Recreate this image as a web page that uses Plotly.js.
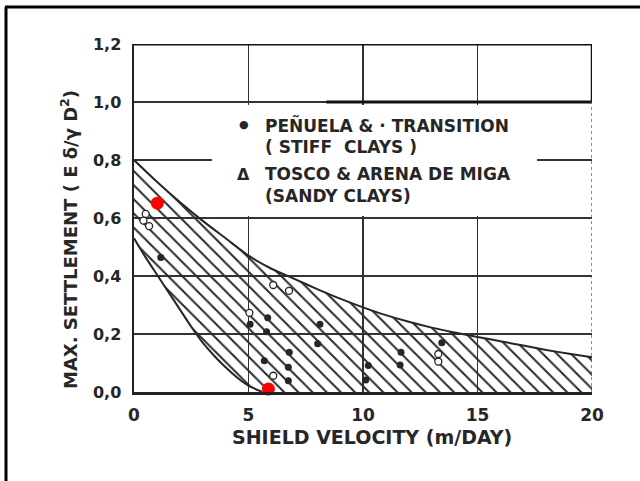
<!DOCTYPE html>
<html>
<head>
<meta charset="utf-8">
<script src="https://cdn.plot.ly/plotly-3.0.1.min.js"></script>
<style>
  html, body { margin: 0; padding: 0; background: #fff; }
  #chart { width: 640px; height: 481px; }
</style>
</head>
<body>
<div id="chart"></div>
<script>
// Envelope of observed settlements: upper and lower bounding curves
const upperX = [0, 1, 2, 3, 4, 5, 6, 7, 8, 9, 10, 11, 12, 13, 14, 15, 16, 17, 18, 19, 20];
const upperY = [0.80, 0.725, 0.655, 0.59, 0.53, 0.47, 0.425, 0.39, 0.355, 0.322, 0.292, 0.265, 0.242, 0.222, 0.205, 0.19, 0.175, 0.16, 0.145, 0.132, 0.12];
const lowerX = [0, 0.5, 1, 1.5, 2, 2.5, 3, 3.5, 4, 4.5, 5, 5.6];
const lowerY = [0.53, 0.465, 0.405, 0.345, 0.285, 0.225, 0.17, 0.125, 0.085, 0.05, 0.022, 0];

// Peñuela & transition (stiff clays)
const stiffX = [1.17, 5.07, 5.84, 5.79, 8.12, 8.02, 6.78, 5.69, 6.74, 6.74, 10.23, 10.12, 11.66, 11.62, 13.44];
const stiffY = [0.464, 0.234, 0.256, 0.208, 0.234, 0.166, 0.137, 0.108, 0.085, 0.039, 0.091, 0.041, 0.137, 0.093, 0.170];

// Tosco & arena de miga (sandy clays)
const sandyX = [0.51, 0.41, 0.66, 6.08, 6.77, 5.04, 6.08, 13.29, 13.29];
const sandyY = [0.614, 0.591, 0.572, 0.369, 0.349, 0.273, 0.056, 0.131, 0.105];

// Highlighted points
const markX = [1.02, 5.87];
const markY = [0.651, 0.01];

// Axis ticks
const yTickVals = [0, 0.2, 0.4, 0.6, 0.8, 1.0, 1.2];
const yTickText = ['0,0', '0,2', '0,4', '0,6', '0,8', '1,0', '1,2'];
const xTickVals = [0, 5, 10, 15, 20];
const xTickText = ['0', '5', '10', '15', '20'];

const FONT = 'DejaVu Sans, sans-serif';
const INK = '#262626';

// Closed outline of the hatched band
const bandX = upperX.concat([20], lowerX.slice().reverse());
const bandY = upperY.concat([0], lowerY.slice().reverse());

const traces = [
  {
    x: bandX, y: bandY, type: 'scatter', mode: 'lines',
    fill: 'toself', fillcolor: 'rgba(0,0,0,0)',
    fillpattern: { shape: '\\', size: 10, solidity: 0.2, fgcolor: '#2a2a2a', bgcolor: 'rgba(255,255,255,0)' },
    line: { width: 0, color: 'rgba(0,0,0,0)' }, hoverinfo: 'skip', showlegend: false
  },
  { x: upperX, y: upperY, type: 'scatter', mode: 'lines', line: { color: INK, width: 2, shape: 'spline', smoothing: 0.6 }, showlegend: false },
  { x: lowerX, y: lowerY, type: 'scatter', mode: 'lines', line: { color: INK, width: 2, shape: 'spline', smoothing: 0.6 }, showlegend: false },
  {
    x: sandyX, y: sandyY, type: 'scatter', mode: 'markers', name: 'TOSCO & ARENA DE MIGA',
    marker: { symbol: 'circle', size: 7, color: '#fff', line: { color: INK, width: 1.3 } }, showlegend: false
  },
  {
    x: stiffX, y: stiffY, type: 'scatter', mode: 'markers', name: 'PEÑUELA & TRANSITION',
    marker: { symbol: 'circle', size: 7, color: INK, line: { width: 0 } }, showlegend: false
  },
  {
    x: markX, y: markY, type: 'scatter', mode: 'markers', cliponaxis: false,
    marker: { symbol: 'circle', size: 13, color: '#ff0000', line: { width: 0 } }, showlegend: false
  }
];

// pixel helpers relative to the plot area (l=134, t=44, w=458, h=348)
const px = v => (v - 134) / 458;
const py = v => (392 - v) / 348;

const legendLines = [
  { t: 'PEÑUELA &amp; · TRANSITION', y: 125 },
  { t: '( STIFF  CLAYS )', y: 147 },
  { t: 'TOSCO &amp; ARENA DE MIGA', y: 174 },
  { t: '(SANDY CLAYS)', y: 196 }
];

const annotations = legendLines.map(l => ({
  xref: 'paper', yref: 'paper', x: px(263), y: py(l.y), xanchor: 'left', yanchor: 'middle',
  text: '<b>' + l.t + '</b>', showarrow: false, font: { family: FONT, size: 17, color: INK }
}));
annotations.push(
  { xref: 'paper', yref: 'paper', x: px(244), y: py(125), xanchor: 'center', yanchor: 'middle', text: '●', showarrow: false, font: { family: FONT, size: 11, color: INK } },
  { xref: 'paper', yref: 'paper', x: px(243), y: py(174), xanchor: 'center', yanchor: 'middle', text: '<b>Δ</b>', showarrow: false, font: { family: FONT, size: 16, color: INK } },
  {
    xref: 'paper', yref: 'paper', x: px(69), y: py(240), xanchor: 'center', yanchor: 'middle', textangle: -90, showarrow: false,
    text: '<b>MAX. SETTLEMENT ( E δ/γ D<sup>2</sup>)</b>', font: { family: FONT, size: 18, color: INK }
  },
  {
    xref: 'paper', yref: 'paper', x: px(372), y: py(437), xanchor: 'center', yanchor: 'middle', showarrow: false,
    text: '<b>SHIELD VELOCITY (m/DAY)</b>', font: { family: FONT, size: 19, color: INK }
  }
);

const shapes = [
  // blank panel behind the legend text
  { type: 'rect', xref: 'x', yref: 'y', x0: 3.4, x1: 17.6, y0: 0.607, y1: 0.99, layer: 'between', fillcolor: '#fff', line: { width: 0 } },
  // heavy top border and right frame
  { type: 'line', xref: 'x', yref: 'y', x0: 0, x1: 20, y0: 1.2, y1: 1.2, line: { color: '#111', width: 3 } },
  { type: 'line', xref: 'x', yref: 'y', x0: 8.4, x1: 20, y0: 1.0, y1: 1.0, line: { color: '#111', width: 3 } },
  { type: 'line', xref: 'x', yref: 'y', x0: 20, x1: 20, y0: 1.0, y1: 1.2, line: { color: '#111', width: 2.5 } },
  { type: 'line', xref: 'x', yref: 'y', x0: 20, x1: 20, y0: 0, y1: 1.0, line: { color: '#666', width: 1.5, dash: 'dot' } },
  // outer frame
  { type: 'line', xref: 'paper', yref: 'paper', x0: px(6), x1: px(6), y0: py(7), y1: py(485), line: { color: '#000', width: 3 } },
  { type: 'line', xref: 'paper', yref: 'paper', x0: px(5), x1: px(645), y0: py(7), y1: py(7), line: { color: '#000', width: 3 } }
];

const layout = {
  width: 640, height: 481,
  margin: { l: 134, r: 48, t: 44, b: 89 },
  paper_bgcolor: '#fff', plot_bgcolor: '#fff',
  showlegend: false,
  font: { family: FONT, color: INK },
  xaxis: {
    range: [0, 20], tickvals: xTickVals, ticktext: xTickText, ticks: '',
    showgrid: true, gridcolor: '#333', gridwidth: 1.5, zeroline: false,
    showline: true, linecolor: '#222', linewidth: 2.5,
    tickfont: { family: FONT, size: 17, color: INK, weight: 'bold' }, ticklabelstandoff: 6
  },
  yaxis: {
    range: [0, 1.2], tickvals: yTickVals, ticktext: yTickText, ticks: '',
    showgrid: true, gridcolor: '#333', gridwidth: 1.5, zeroline: false,
    showline: true, linecolor: '#222', linewidth: 2.5,
    tickfont: { family: FONT, size: 16, color: INK, weight: 'bold' }, ticklabelstandoff: 7
  },
  annotations: annotations,
  shapes: shapes
};

Plotly.newPlot('chart', traces, layout, { displayModeBar: false, staticPlot: true });
</script>
</body>
</html>
